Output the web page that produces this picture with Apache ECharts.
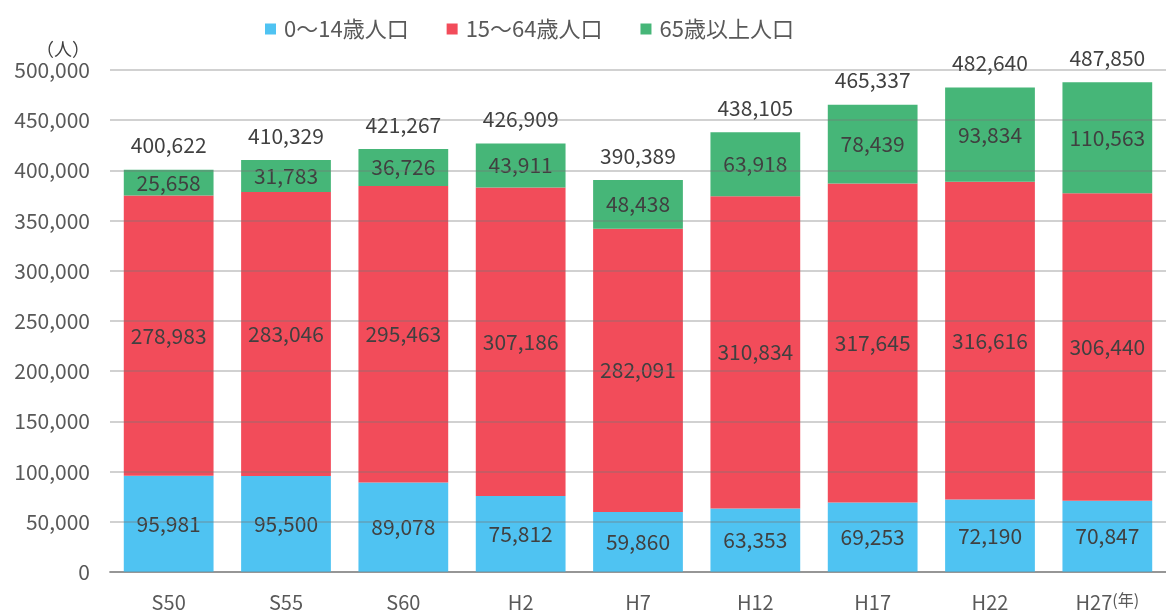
<!DOCTYPE html>
<html><head><meta charset="utf-8">
<script src="https://cdn.jsdelivr.net/npm/echarts@6/dist/echarts.min.js"></script>
<style>html,body{margin:0;padding:0;background:#fff}#c{width:1166px;height:612px}</style>
</head><body><div id="c"></div>
<script>
const categories = ['S50','S55','S60','H2','H7','H12','H17','H22','H27'];
const age0_14 = [95981,95500,89078,75812,59860,63353,69253,72190,70847];
const age15_64 = [278983,283046,295463,307186,282091,310834,317645,316616,306440];
const age65 = [25658,31783,36726,43911,48438,63918,78439,93834,110563];
const totals = [400622,410329,421267,426909,390389,438105,465337,482640,487850];
const seriesNames = ['0〜14歳人口','15〜64歳人口','65歳以上人口'];
const yTicks = [0,50000,100000,150000,200000,250000,300000,350000,400000,450000,500000];

const FONT = '"Noto Sans CJK JP", "Noto Sans", sans-serif';
const fmt = v => v.toLocaleString('en-US');
const chart = echarts.init(document.getElementById('c'));
const lbl = {show:true, position:'inside', color:'#404040', fontSize:21, fontFamily:FONT, formatter:p=>fmt(p.value)};
chart.setOption({
  animation:false,
  textStyle:{fontFamily:FONT},
  legend:{top:13, left:260, itemWidth:11, itemHeight:11, itemGap:38, icon:'rect',
    textStyle:{fontSize:22, color:'#595959', fontFamily:FONT, padding:[0,0,0,3]},
    data:seriesNames},
  grid:{left:110, top:70, width:1057, height:503, containLabel:false},
  xAxis:{type:'category', data:categories,
    axisLine:{lineStyle:{color:'#a6a6a6', width:2}}, axisTick:{show:false},
    axisLabel:{interval:0, fontSize:20, color:'#595959', margin:20, fontFamily:FONT,
      formatter:(v,i)=> i===categories.length-1 ? v+'{s|(年)}' : v,
      rich:{s:{fontSize:16, color:'#595959', fontFamily:FONT, padding:[0,0,4,0]}}}},
  yAxis:{type:'value', min:yTicks[0], max:yTicks[yTicks.length-1], interval:50000, z:3,
    name:'（人）', nameGap:12, nameTextStyle:{fontSize:18, color:'#404040', padding:[0,0,0,-74], align:'left'},
    axisLabel:{fontSize:21, color:'#595959', margin:20, formatter:v=>fmt(v)},
    splitLine:{lineStyle:{color:'rgba(120,120,120,0.45)', width:1.5}}, axisLine:{show:false}, axisTick:{show:false}},
  series:[
    {name:seriesNames[0], type:'bar', stack:'a', data:age0_14, barWidth:'76.5%', itemStyle:{color:'#4fc3f2'}, label:lbl, z:2},
    {name:seriesNames[1], type:'bar', stack:'a', data:age15_64, itemStyle:{color:'#f24c5a'}, label:lbl, z:2},
    {name:seriesNames[2], type:'bar', stack:'a', data:age65, itemStyle:{color:'#46b678'}, label:lbl, z:2},
    {name:'total', type:'bar', stack:'a', data:totals.map(()=>0), itemStyle:{color:'transparent'},
      label:{show:true, position:'top', distance:14, color:'#404040', fontSize:21, fontFamily:FONT,
        formatter:p=>fmt(totals[p.dataIndex])}, z:2}
  ]
});
</script></body></html>
